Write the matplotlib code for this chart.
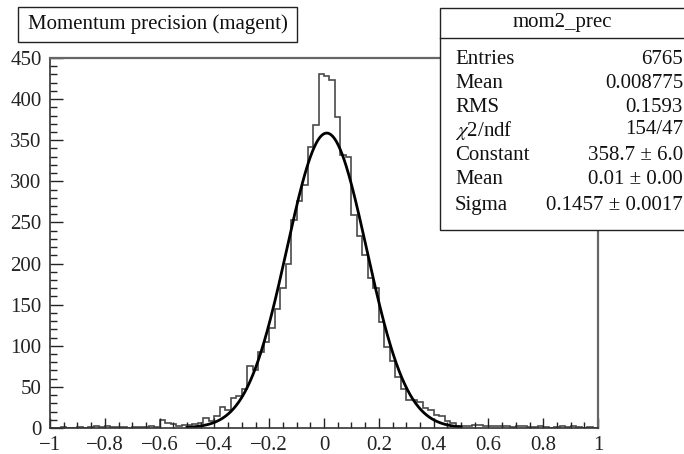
import numpy as np
import matplotlib
matplotlib.use("Agg")
import matplotlib.pyplot as plt
from matplotlib.patches import Rectangle
from matplotlib.ticker import MultipleLocator, FuncFormatter

plt.rcParams['font.family'] = ['Liberation Serif', 'DejaVu Serif']
plt.rcParams['mathtext.fontset'] = 'stix'

# ---- data ----
bin_lo, bin_hi, n_bins = -1.0, 1.0, 100
counts = [
    # -0.99 .. -0.51
    0, 0, 1, 0, 0, 1, 0, 1, 2, 1, 2, 1, 1, 1, 0, 1, 1, 1, 2, 1, 10, 6, 5, 3, 4,
    # -0.49 .. -0.01
    4, 5, 6, 12, 8, 14, 26, 22, 37, 39, 48, 76, 70, 92, 104, 122, 145, 170, 200, 253,
    276, 296, 342, 369, 431,
    # 0.01 .. 0.49
    428, 423, 378, 332, 330, 259, 233, 210, 182, 170, 129, 99, 81, 62, 48,
    34, 34, 32, 24, 22, 16, 15, 8, 6, 3,
    # 0.51 .. 0.99
    3, 3, 4, 4, 2, 2, 3, 2, 2, 1, 2, 3, 1, 1, 2, 1, 0, 1, 2, 1, 2, 1, 0, 1, 0,
]
fit_const, fit_mean, fit_sigma = 358.7, 0.01, 0.1457
fit_range = (-0.5, 0.5)

title = "Momentum precision (magent)"
stats_name = "mom2_prec"
stats_labels = ["Entries", "Mean", "RMS", r"$\chi$2/ndf", "Constant", "Mean", "Sigma"]
stats_values = ["6765", "0.008775", "0.1593", "154/47", "358.7 \u00b1 6.0",
                "0.01 \u00b1 0.00", "0.1457 \u00b1 0.0017"]

# ---- figure ----
W, H = 684, 454
fig = plt.figure(figsize=(W / 100, H / 100), dpi=100)
def fx(px): return px / W
def fy(py): return 1 - py / H

ax = fig.add_axes([fx(50), fy(428), fx(598) - fx(50), fy(58) - fy(428)])
edges = np.linspace(bin_lo, bin_hi, n_bins + 1)
ax.stairs(counts, edges, color='#4a4a4a', lw=1.2)

xf = np.linspace(fit_range[0], fit_range[1], 400)
yf = fit_const * np.exp(-0.5 * ((xf - fit_mean) / fit_sigma) ** 2)
ax.plot(xf, yf, color='black', lw=2.0)

ax.set_xlim(-1, 1)
ax.set_ylim(0, 450)
ax.xaxis.set_major_locator(MultipleLocator(0.2))
ax.xaxis.set_minor_locator(MultipleLocator(0.05))
ax.yaxis.set_major_locator(MultipleLocator(50))
ax.yaxis.set_minor_locator(MultipleLocator(10))

def fmt(v, pos):
    s = f"{v:.1f}".rstrip('0').rstrip('.')
    if s in ("-0", "0"):
        s = "0"
    return s.replace('-', '\u2212')
ax.xaxis.set_major_formatter(FuncFormatter(fmt))
ax.yaxis.set_major_formatter(FuncFormatter(lambda v, p: f"{int(v)}"))

ax.tick_params(axis='both', which='both', direction='in', top=False, right=False,
               labelsize=15, colors='#222222')
ax.tick_params(axis='x', which='major', length=7.5, width=1.0, pad=6)
ax.tick_params(axis='x', which='minor', length=4, width=1.0)
ax.tick_params(axis='y', which='major', length=9.5, width=1.0, pad=6)
ax.tick_params(axis='y', which='minor', length=5, width=1.0)
for s in ['left', 'bottom']:
    ax.spines[s].set_color('#333333')
    ax.spines[s].set_linewidth(1.2)
for s in ['top', 'right']:
    ax.spines[s].set_color('#666666')
    ax.spines[s].set_linewidth(1.6)

# ---- title box ----
fig.add_artist(Rectangle((fx(18), fy(42)), fx(297) - fx(18), fy(7) - fy(42),
                         transform=fig.transFigure, facecolor='white',
                         edgecolor='#222222', lw=1.0, zorder=5))
fig.text(fx(157.5), fy(24.5), title, ha='center', va='center', fontsize=15,
         color='#111111', zorder=6)

# ---- stats box ----
fig.add_artist(Rectangle((fx(440), fy(230)), fx(700) - fx(440), fy(8) - fy(230),
                         transform=fig.transFigure, facecolor='white',
                         edgecolor='#222222', lw=1.0, zorder=5))
fig.add_artist(plt.Line2D([fx(440), fx(700)], [fy(38), fy(38)],
                          transform=fig.transFigure, color='#222222', lw=1.0, zorder=6))
fig.text(fx(562), fy(23), stats_name, ha='center', va='center', fontsize=15,
         color='#111111', zorder=6)
row_y = [60, 83, 107, 130, 155, 180, 205]
for lab, val, yy in zip(stats_labels, stats_values, row_y):
    fig.text(fx(455), fy(yy), lab, ha='left', va='center', fontsize=15,
             color='#111111', zorder=6)
    fig.text(fx(683), fy(yy), val, ha='right', va='center', fontsize=15,
             color='#111111', zorder=6)

fig.savefig("out.png", dpi=100)
